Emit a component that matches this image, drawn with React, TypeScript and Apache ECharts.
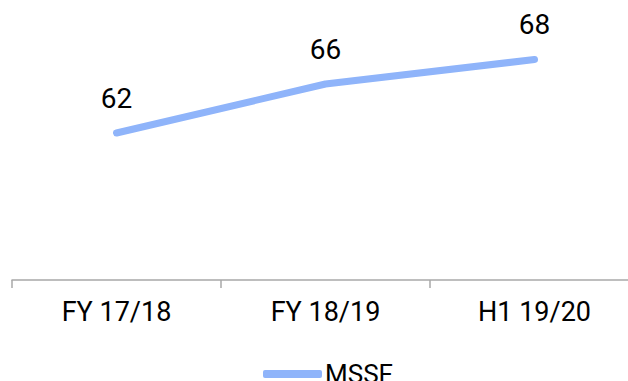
import React, { useEffect, useRef } from "react";
import * as echarts from "echarts";

const categories = ["FY 17/18", "FY 18/19", "H1 19/20"];
const mssf = [62, 66, 68];
const seriesName = "MSSF";

export default function App() {
  const ref = useRef<HTMLDivElement>(null);

  useEffect(() => {
    if (!ref.current) return;
    const chart = echarts.init(ref.current, null, { renderer: "svg" });
    const font = "Roboto, 'Noto Sans', sans-serif";
    chart.setOption({
      animation: false,
      textStyle: { fontFamily: font },
      grid: { left: 12, right: 1, top: 35, bottom: 101 },
      legend: {
        data: [{ name: seriesName, icon: "roundRect" }],
        left: 263,
        top: 361,
        padding: 0,
        itemWidth: 59,
        itemHeight: 8,
        textStyle: { fontSize: 26, color: "#000", fontFamily: font, padding: [0, 0, 0, -2] },
      },
      xAxis: {
        type: "category",
        data: categories,
        boundaryGap: true,
        axisLine: { lineStyle: { color: "#a8a8a8", width: 1.5 } },
        axisTick: { show: true, length: 8, lineStyle: { color: "#a8a8a8", width: 1.5 } },
        axisLabel: { fontSize: 27, color: "#000", margin: 18, fontFamily: font },
      },
      yAxis: {
        type: "value",
        min: 50,
        max: 70,
        show: false,
        splitLine: { show: false },
      },
      series: [
        {
          name: seriesName,
          type: "line",
          data: mssf,
          symbol: "circle",
          symbolSize: 0,
          showSymbol: true,
          lineStyle: { color: "#8fb4fa", width: 7, cap: "round", join: "round" },
          itemStyle: { color: "#8fb4fa" },
          label: {
            show: true,
            position: "top",
            distance: 21,
            fontSize: 28,
            color: "#000",
            fontFamily: font,
          },
        },
      ],
    });
    return () => chart.dispose();
  }, []);

  return (
    <div
      style={{ position: "fixed", left: 0, top: 0, width: 628, height: 381, overflow: "hidden", background: "#fff" }}
    >
      <div ref={ref} style={{ width: 640, height: 381 }} />
    </div>
  );
}
